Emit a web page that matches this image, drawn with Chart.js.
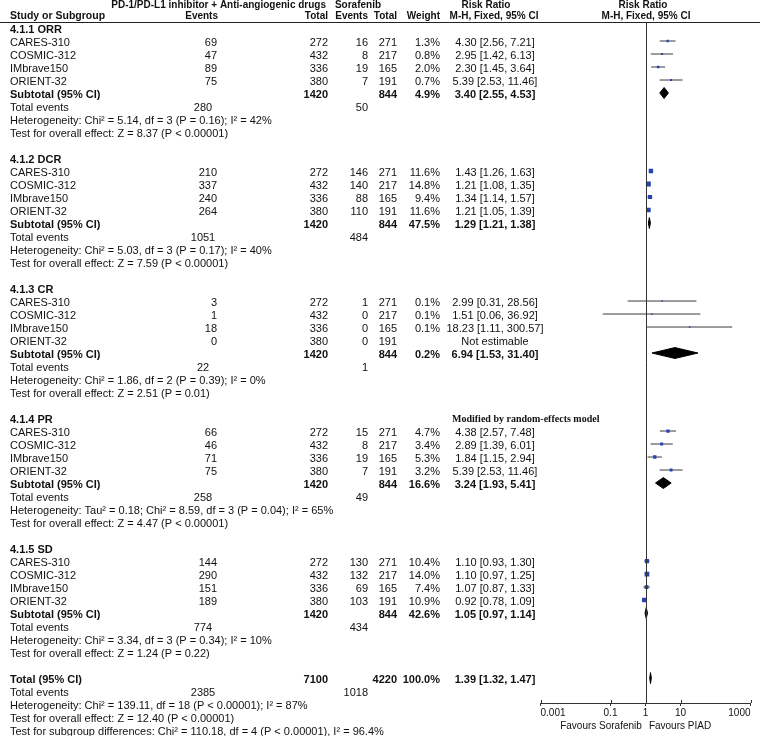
<!DOCTYPE html>
<html>
<head>
<meta charset="utf-8">
<script src="https://cdn.jsdelivr.net/npm/chart.js@4"></script>
<style>
  html, body { margin: 0; padding: 0; background: #fff; }
  canvas { display: block; }
</style>
</head>
<body>
<canvas id="forest" width="760" height="736"></canvas>
<script>
// Forest plot: PD-1/PD-L1 inhibitor + anti-angiogenic drugs vs sorafenib

const groupLabels = ['4.1.1 ORR', '4.1.2 DCR', '4.1.3 CR', '4.1.4 PR', '4.1.5 SD'];
const studyNames = ['CARES-310', 'COSMIC-312', 'IMbrave150', 'ORIENT-32'];

const expEvents = [[69, 47, 89, 75], [210, 337, 240, 264], [3, 1, 18, 0], [66, 46, 71, 75], [144, 290, 151, 189]];
const expTotal = [272, 432, 336, 380];
const ctrlEvents = [[16, 8, 19, 7], [146, 140, 88, 110], [1, 0, 0, 0], [15, 8, 19, 7], [130, 132, 69, 103]];
const ctrlTotal = [271, 217, 165, 191];

const weights = [[1.3, 0.8, 2.0, 0.7], [11.6, 14.8, 9.4, 11.6], [0.1, 0.1, 0.1, null], [4.7, 3.4, 5.3, 3.2], [10.4, 14.0, 7.4, 10.9]];
const rrEst = [[4.30, 2.95, 2.30, 5.39], [1.43, 1.21, 1.34, 1.21], [2.99, 1.51, 18.23, null], [4.38, 2.89, 1.84, 5.39], [1.10, 1.10, 1.07, 0.92]];
const rrLow = [[2.56, 1.42, 1.45, 2.53], [1.26, 1.08, 1.14, 1.05], [0.31, 0.06, 1.11, null], [2.57, 1.39, 1.15, 2.53], [0.93, 0.97, 0.87, 0.78]];
const rrHigh = [[7.21, 6.13, 3.64, 11.46], [1.63, 1.35, 1.57, 1.39], [28.56, 36.92, 300.57, null], [7.48, 6.01, 2.94, 11.46], [1.30, 1.25, 1.33, 1.09]];

const subExpEvents = [280, 1051, 22, 258, 774];
const subCtrlEvents = [50, 484, 1, 49, 434];
const subExpTotal = 1420;
const subCtrlTotal = 844;
const subWeight = [4.9, 47.5, 0.2, 16.6, 42.6];
const subEst = [3.40, 1.29, 6.94, 3.24, 1.05];
const subLow = [2.55, 1.21, 1.53, 1.93, 0.97];
const subHigh = [4.53, 1.38, 31.40, 5.41, 1.14];

const heterogeneity = [
    'Heterogeneity: Chi² = 5.14, df = 3 (P = 0.16); I² = 42%',
    'Heterogeneity: Chi² = 5.03, df = 3 (P = 0.17); I² = 40%',
    'Heterogeneity: Chi² = 1.86, df = 2 (P = 0.39); I² = 0%',
    'Heterogeneity: Tau² = 0.18; Chi² = 8.59, df = 3 (P = 0.04); I² = 65%',
    'Heterogeneity: Chi² = 3.34, df = 3 (P = 0.34); I² = 10%'
];
const overallEffect = [
    'Test for overall effect: Z = 8.37 (P < 0.00001)',
    'Test for overall effect: Z = 7.59 (P < 0.00001)',
    'Test for overall effect: Z = 2.51 (P = 0.01)',
    'Test for overall effect: Z = 4.47 (P < 0.00001)',
    'Test for overall effect: Z = 1.24 (P = 0.22)'
];

const totalExpEvents = 2385;
const totalCtrlEvents = 1018;
const totalExp = 7100;
const totalCtrl = 4220;
const totalWeight = 100.0;
const totalEst = 1.39;
const totalLow = 1.32;
const totalHigh = 1.47;
const totalNotes = [
    'Heterogeneity: Chi² = 139.11, df = 18 (P < 0.00001); I² = 87%',
    'Test for overall effect: Z = 12.40 (P < 0.00001)',
    'Test for subgroup differences: Chi² = 110.18, df = 4 (P < 0.00001), I² = 96.4%'
];

const tickValues = [0.001, 0.1, 1, 10, 1000];
const tickLabels = ['0.001', '0.1', '1', '10', '1000'];

const FONT = '"Liberation Sans", Arial, sans-serif';
const ROWS_PER_GROUP = 10;
const TOTAL_ROW = 50;

function fmtCI(est, lo, hi) {
    return est.toFixed(2) + ' [' + lo.toFixed(2) + ', ' + hi.toFixed(2) + ']';
}

// build datasets
const ciLines = [];
const squares = [];
const squareSizes = [];
const diamonds = [];

function addDiamond(row, est, lo, hi) {
    diamonds.push({
        data: [
            { x: lo, y: row }, { x: est, y: row - 0.42 },
            { x: hi, y: row }, { x: est, y: row + 0.42 }, { x: lo, y: row }
        ],
        showLine: true,
        fill: 'shape',
        tension: 0,
        borderColor: '#000',
        backgroundColor: '#000',
        borderWidth: 1,
        pointRadius: 0,
        order: 0
    });
}

groupLabels.forEach((label, g) => {
    const base = g * ROWS_PER_GROUP;
    studyNames.forEach((name, s) => {
        if (rrEst[g][s] === null) return;
        const row = base + 1 + s;
        ciLines.push({
            data: [{ x: rrLow[g][s], y: row }, { x: rrHigh[g][s], y: row }],
            showLine: true,
            borderColor: '#3a3a3a',
            borderWidth: 1,
            pointRadius: 0,
            order: 2
        });
        squares.push({ x: rrEst[g][s], y: row });
        squareSizes.push((1.2 + Math.sqrt(weights[g][s]) * 0.95) / Math.SQRT2);
    });
    addDiamond(base + 5, subEst[g], subLow[g], subHigh[g]);
});
addDiamond(TOTAL_ROW, totalEst, totalLow, totalHigh);

// table text and reference line
const tablePlugin = {
    id: 'tableText',
    afterDraw(chart) {
        const ctx = chart.ctx;
        const xs = chart.scales.x;
        const ys = chart.scales.y;
        const area = chart.chartArea;
        const rowY = r => ys.getPixelForValue(r) + 1.5;

        ctx.save();
        // line of no effect
        ctx.strokeStyle = '#333';
        ctx.lineWidth = 1;
        const x1 = Math.round(xs.getPixelForValue(1)) + 0.5;
        ctx.beginPath();
        ctx.moveTo(x1, area.top);
        ctx.lineTo(x1, area.bottom);
        // short upward part of the axis ticks
        tickValues.forEach(v => {
            const tx = Math.round(xs.getPixelForValue(v)) + 0.5;
            ctx.moveTo(tx, area.bottom - 3);
            ctx.lineTo(tx, area.bottom);
        });
        ctx.stroke();

        // header rule
        ctx.strokeStyle = '#222';
        ctx.beginPath();
        ctx.moveTo(0, 22.5);
        ctx.lineTo(760, 22.5);
        ctx.stroke();

        ctx.fillStyle = '#111';
        ctx.textBaseline = 'middle';
        const txt = (s, x, y, align, bold, size) => {
            ctx.font = (bold ? 'bold ' : '') + (size || 11) + 'px ' + FONT;
            ctx.textAlign = align || 'left';
            ctx.fillText(String(s), x, y);
        };
        const head = (s, x, y, align) => txt(s, x, y, align, true, 10);

        // headers
        head('PD-1/PD-L1 inhibitor + Anti-angiogenic drugs', 326, 5, 'right');
        head('Sorafenib', 358, 5, 'center');
        head('Risk Ratio', 486, 5, 'center');
        head('Risk Ratio', 643, 5, 'center');
        txt('Study or Subgroup', 10, 16.5, 'left', true, 10.5);
        head('Events', 218, 16.5, 'right');
        head('Total', 328, 16.5, 'right');
        head('Events', 368, 16.5, 'right');
        head('Total', 397, 16.5, 'right');
        head('Weight', 440, 16.5, 'right');
        head('M-H, Fixed, 95% CI', 494, 16.5, 'center');
        head('M-H, Fixed, 95% CI', 646, 16.5, 'center');

        groupLabels.forEach((label, g) => {
            const base = g * ROWS_PER_GROUP;
            txt(label, 10, rowY(base), 'left', true);
            studyNames.forEach((name, s) => {
                const y = rowY(base + 1 + s);
                txt(name, 10, y);
                txt(expEvents[g][s], 217, y, 'right');
                txt(expTotal[s], 328, y, 'right');
                txt(ctrlEvents[g][s], 368, y, 'right');
                txt(ctrlTotal[s], 397, y, 'right');
                if (rrEst[g][s] === null) {
                    txt('Not estimable', 495, y, 'center');
                } else {
                    txt(weights[g][s].toFixed(1) + '%', 440, y, 'right');
                    txt(fmtCI(rrEst[g][s], rrLow[g][s], rrHigh[g][s]), 495, y, 'center');
                }
            });
            let y = rowY(base + 5);
            txt('Subtotal (95% CI)', 10, y, 'left', true);
            txt(subExpTotal, 328, y, 'right', true);
            txt(subCtrlTotal, 397, y, 'right', true);
            txt(subWeight[g].toFixed(1) + '%', 440, y, 'right', true);
            txt(fmtCI(subEst[g], subLow[g], subHigh[g]), 495, y, 'center', true);
            y = rowY(base + 6);
            txt('Total events', 10, y);
            txt(subExpEvents[g], 203, y, 'center');
            txt(subCtrlEvents[g], 368, y, 'right');
            txt(heterogeneity[g], 10, rowY(base + 7));
            txt(overallEffect[g], 10, rowY(base + 8));
        });

        // random-effects note on PR group
        ctx.font = 'bold 10px "Liberation Serif", "Times New Roman", serif';
        ctx.textAlign = 'left';
        ctx.fillText('Modified by random-effects model', 452, rowY(3 * ROWS_PER_GROUP));

        // overall
        let y = rowY(TOTAL_ROW);
        txt('Total (95% CI)', 10, y, 'left', true);
        txt(totalExp, 328, y, 'right', true);
        txt(totalCtrl, 397, y, 'right', true);
        txt(totalWeight.toFixed(1) + '%', 440, y, 'right', true);
        txt(fmtCI(totalEst, totalLow, totalHigh), 495, y, 'center', true);
        y = rowY(TOTAL_ROW + 1);
        txt('Total events', 10, y);
        txt(totalExpEvents, 203, y, 'center');
        txt(totalCtrlEvents, 368, y, 'right');
        totalNotes.forEach((note, i) => txt(note, 10, rowY(TOTAL_ROW + 2 + i)));

        // favours labels under the axis
        txt('Favours Sorafenib', 601, 726, 'center', false, 10);
        txt('Favours PIAD', 680, 726, 'center', false, 10);
        ctx.restore();
    }
};

new Chart(document.getElementById('forest'), {
    type: 'scatter',
    data: {
        datasets: [
            {
                data: squares,
                pointStyle: 'rect',
                pointRadius: squareSizes,
                backgroundColor: '#2544b4',
                borderColor: '#2544b4',
                borderWidth: 0,
                order: 1
            },
            ...diamonds,
            ...ciLines
        ]
    },
    options: {
        responsive: false,
        animation: false,
        devicePixelRatio: 1,
        layout: {
            padding: { left: 540.5, right: 9.5, top: 22.5, bottom: 13 }
        },
        plugins: {
            legend: { display: false },
            tooltip: { enabled: false }
        },
        scales: {
            x: {
                type: 'logarithmic',
                min: 0.001,
                max: 1000,
                afterBuildTicks: scale => {
                    scale.ticks = tickValues.map(v => ({ value: v }));
                },
                afterFit: scale => { scale.height = 20; },
                ticks: {
                    align: 'inner',
                    maxRotation: 0,
                    autoSkip: false,
                    padding: 1,
                    color: '#111',
                    font: { family: FONT, size: 10 },
                    callback: (value) => tickLabels[tickValues.indexOf(value)] ?? ''
                },
                grid: {
                    drawOnChartArea: false,
                    drawTicks: true,
                    tickLength: 3,
                    color: '#333'
                },
                border: { color: '#333', width: 1 }
            },
            y: {
                type: 'linear',
                display: false,
                reverse: true,
                min: -0.423,
                max: 51.92
            }
        }
    },
    plugins: [tablePlugin]
});
</script>
</body>
</html>
